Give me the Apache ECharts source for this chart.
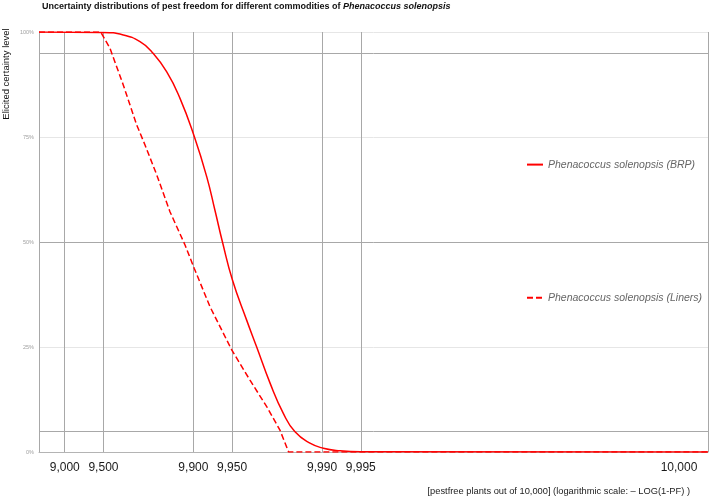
<!DOCTYPE html>
<html><head><meta charset="utf-8">
<script src="https://cdn.jsdelivr.net/npm/echarts@6/dist/echarts.min.js"></script>
<style>html,body{margin:0;padding:0;background:#fff}#c{width:709px;height:500px}</style>
</head><body><div id="c"></div>
<script>
// Series names
const seriesNames = ['Phenacoccus solenopsis (BRP)', 'Phenacoccus solenopsis (Liners)'];
// x values in axis units: -LOG10(1-PF); y values: elicited certainty level (%)
const brpX = [0.8, 1.29, 1.455, 1.585, 1.676, 1.793, 1.896, 2.007, 2.104, 2.168, 2.226, 2.303, 2.414, 2.492, 2.596, 2.699, 2.79, 2.906, 3.01, 3.14, 3.301, 6];
const brpY = [100, 99.9, 99.3, 97.7, 95.3, 90.5, 84.2, 75.1, 65.5, 57.5, 50, 41, 31.4, 25, 16.4, 9.2, 4.8, 2.1, 0.9, 0.3, 0.07, 0];
const linersX = [0.8, 1.28, 1.352, 1.455, 1.559, 1.624, 1.715, 1.818, 1.935, 2.007, 2.129, 2.298, 2.44, 2.57, 2.673, 2.74, 6];
const linersY = [100, 100, 96.1, 87.4, 77.9, 73.1, 66, 57.2, 49.3, 43.7, 34.6, 24.3, 17.1, 10.8, 5.2, 0, 0];
// x ticks (pestfree plants out of 10,000) at -LOG10(1-PF)
const xTickValues = [1, 1.30103, 2, 2.30103, 3, 3.30103, 6];
const xTickLabels = ['9,000', '9,500', '9,900', '9,950', '9,990', '9,995', '10,000'];
// y reference lines (%)
const yRefLines = [5, 50, 95];

const FONT = "'Liberation Sans', Arial, sans-serif";

const zip = (xs, ys) => xs.map((x, i) => [x, ys[i]]);

const chart = echarts.init(document.getElementById('c'), null, {renderer: 'canvas'});
chart.setOption({
  animation: false,
  backgroundColor: '#fff',
  title: {
    text: '{a|Uncertainty distributions of pest freedom for different commodities of }{b|Phenacoccus solenopsis}',
    left: 42, top: 2, padding: 0,
    textStyle: {
      rich: {
        a: {fontFamily: FONT, fontSize: 9, fontWeight: 'bold', color: '#111'},
        b: {fontFamily: FONT, fontSize: 9, fontWeight: 'bold', fontStyle: 'italic', color: '#111'}
      }
    }
  },
  legend: {
    orient: 'vertical', left: 521, top: 154, itemGap: 122,
    itemWidth: 16, itemHeight: 14,
    itemStyle: {opacity: 0},
    textStyle: {fontFamily: FONT, fontSize: 10.5, fontStyle: 'italic', color: '#666'},
    data: seriesNames
  },
  grid: {left: 39, right: 1, top: 32, bottom: 48, containLabel: false},
  xAxis: {
    type: 'value', min: 0.8, max: 6,
    axisLine: {show: true, lineStyle: {color: '#b4b4b4', width: 1}},
    axisTick: {show: false, customValues: xTickValues},
    axisLabel: {
      customValues: xTickValues,
      fontFamily: FONT, fontSize: 12, color: '#1a1a1a', margin: 10,
      formatter: function (v) {
        let i = xTickValues.findIndex(t => Math.abs(t - v) < 1e-6);
        if (i < 0) return '';
        return i === xTickValues.length - 1 ? '{r|' + xTickLabels[i] + '}' : xTickLabels[i];
      },
      rich: {r: {fontFamily: FONT, fontSize: 12, color: '#1a1a1a', padding: [0, 58, 0, 0]}}
    },
    splitLine: {show: true, lineStyle: {color: '#a8a8a8', width: 1}}
  },
  yAxis: [{
    type: 'value', min: 0, max: 100, interval: 25,
    axisLine: {show: true, lineStyle: {color: '#a8a8a8'}},
    axisTick: {show: false},
    axisLabel: {formatter: '{value}%', fontFamily: FONT, fontSize: 5.5, color: '#a0a0a0', margin: 5},
    splitLine: {show: true, lineStyle: {color: '#e6e6e6', width: 1}}
  }, {
    type: 'value', min: 0, max: 100, position: 'left',
    axisLine: {show: false}, axisLabel: {show: false},
    axisTick: {show: false, customValues: yRefLines},
    splitLine: {show: true, lineStyle: {color: '#a8a8a8', width: 1}}
  }],
  graphic: [{
    type: 'text', x: 6, y: 74, rotation: Math.PI / 2,
    style: {text: 'Elicited certainty level', fontFamily: FONT, fontSize: 9.5, fill: '#111', align: 'center', verticalAlign: 'middle'}
  }, {
    type: 'text', x: 690, y: 491,
    style: {text: '[pestfree plants out of 10,000] (logarithmic scale: \u2013 LOG(1-PF) )', fontFamily: FONT, fontSize: 9.3, fill: '#222', align: 'right', verticalAlign: 'middle'}
  }],
  series: [{
    name: seriesNames[0], type: 'line', yAxisIndex: 0,
    data: zip(brpX, brpY), symbol: 'none', smooth: 0.5,
    lineStyle: {color: '#ff0000', width: 1.5}, itemStyle: {color: '#ff0000'}
  }, {
    name: seriesNames[1], type: 'line', yAxisIndex: 0,
    data: zip(linersX, linersY), symbol: 'none', smooth: false,
    lineStyle: {color: '#ff0000', width: 1.5, type: [6, 3]}, itemStyle: {color: '#ff0000'}
  }]
});
</script></body></html>
